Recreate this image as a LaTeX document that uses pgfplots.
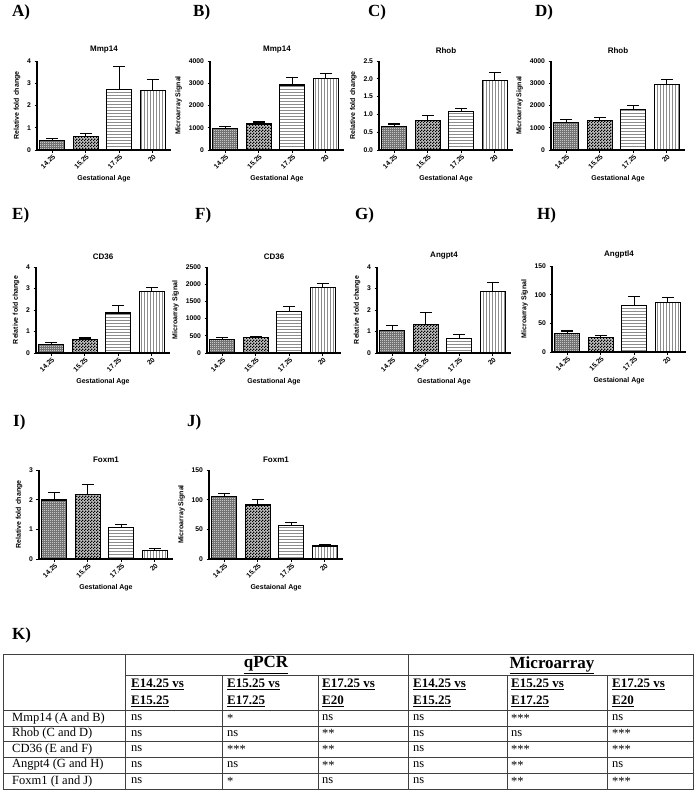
\documentclass[border=0pt]{standalone}
\usepackage{fontspec}
\setmainfont{Liberation Serif}
\setsansfont{Liberation Sans}
\usepackage{pgfplots}
\pgfplotsset{compat=1.18}
\usetikzlibrary{patterns}

\pgfdeclarepatternformonly{finecheck}{\pgfpointorigin}{\pgfpoint{3pt}{3pt}}{\pgfpoint{3pt}{3pt}}{%
  \pgfpathrectangle{\pgfpointorigin}{\pgfpoint{1.5pt}{1.5pt}}%
  \pgfpathrectangle{\pgfpoint{1.5pt}{1.5pt}}{\pgfpoint{1.5pt}{1.5pt}}%
  \pgfusepath{fill}}
\pgfdeclarepatternformonly{finegrid}{\pgfpoint{-0.5pt}{-0.5pt}}{\pgfpoint{2pt}{2pt}}{\pgfpoint{2pt}{2pt}}{%
  \pgfsetlinewidth{0.5pt}%
  \pgfpathmoveto{\pgfpoint{0pt}{1pt}}\pgfpathlineto{\pgfpoint{2pt}{1pt}}%
  \pgfpathmoveto{\pgfpoint{1pt}{0pt}}\pgfpathlineto{\pgfpoint{1pt}{2pt}}%
  \pgfusepath{stroke}}

\pgfplotsset{
  panel/.style={
    scale only axis, width=134pt, height=89pt,
    axis lines=left, axis line style={-, line width=1.1pt, black},
    xmin=0.54, xmax=4.54, ymin=0,
    xtick={1,2,3,4}, xticklabels={14.25,15.25,17.25,20},
    x tick label style={rotate=45, anchor=north east, inner sep=1pt},
    tick align=outside, major tick length=2.5pt, tick style={line width=0.9pt, black},
    tick label style={font=\sffamily\bfseries\fontsize{6.8}{7.5}\selectfont},
    label style={font=\sffamily\bfseries\fontsize{7}{8}\selectfont},
    xlabel style={yshift=-0.5pt},
    title style={font=\sffamily\bfseries\fontsize{8}{9}\selectfont, yshift=-2pt},
    xlabel={Gestational Age},
    /pgf/number format/assume math mode=true,
    /pgf/number format/1000 sep={},
    scaled y ticks=false,
  },
  ebar/.style={/pgfplots/error bars/y dir=plus, /pgfplots/error bars/y explicit,
    /pgfplots/error bars/error mark=|,
    /pgfplots/error bars/error bar style={line width=1.1pt, black},
    /pgfplots/error bars/error mark options={line width=1.1pt, black, mark size=6pt}},
  barcommon/.style={ybar, bar width=25pt, bar shift=0pt, draw=black, line width=1.1pt, ebar},
  b1/.style={barcommon, fill=gray!45, postaction={pattern=finegrid, pattern color=black!55}},
  b2/.style={barcommon, fill=black!25, postaction={pattern=finecheck, pattern color=black}},
  b3/.style={barcommon, pattern=horizontal lines, pattern color=black!45},
  b4/.style={barcommon, pattern=vertical lines, pattern color=black!45},
}

\begin{document}
\begin{tikzpicture}
\useasboundingbox[fill=white] (0,0) rectangle (699pt,-792pt);

% panel letters
\begin{scope}[every node/.style={anchor=west, font=\bfseries\fontsize{17}{18}\selectfont, inner sep=0pt}]
\node at (12pt,-12pt) {A)};
\node at (193pt,-12pt) {B)};
\node at (368pt,-12pt) {C)};
\node at (535pt,-12pt) {D)};
\node at (12pt,-215pt) {E)};
\node at (195pt,-215pt) {F)};
\node at (355pt,-215pt) {G)};
\node at (537pt,-215pt) {H)};
\node at (13pt,-422pt) {I)};
\node at (187pt,-422pt) {J)};
\node at (12pt,-635pt) {K)};
\end{scope}

% A
\begin{axis}[panel, at={(37pt,-150pt)}, anchor=south west, ymax=4, ytick={0,1,2,3,4},
  title={Mmp14}, ylabel={Relative fold change}]
\addplot[b1] coordinates {(1,0.44) +- (0,0.09)};
\addplot[b2] coordinates {(2,0.62) +- (0,0.12)};
\addplot[b3] coordinates {(3,2.70) +- (0,1.06)};
\addplot[b4] coordinates {(4,2.68) +- (0,0.47)};
\end{axis}
% B
\begin{axis}[panel, at={(210pt,-150pt)}, anchor=south west, ymax=4000, ytick={0,1000,2000,3000,4000},
  title={Mmp14}, ylabel={Microarray Signal}]
\addplot[b1] coordinates {(1,960) +- (0,105)};
\addplot[b2] coordinates {(2,1170) +- (0,90)};
\addplot[b3] coordinates {(3,2920) +- (0,320)};
\addplot[b4] coordinates {(4,3225) +- (0,200)};
\end{axis}
% C
\begin{axis}[panel, at={(379pt,-150pt)}, anchor=south west, ymax=2.5, ytick={0,0.5,1,1.5,2,2.5},
  yticklabel style={/pgf/number format/fixed, /pgf/number format/fixed zerofill, /pgf/number format/precision=1},
  title={Rhob}, ylabel={Relative fold change}]
\addplot[b1] coordinates {(1,0.67) +- (0,0.06)};
\addplot[b2] coordinates {(2,0.84) +- (0,0.13)};
\addplot[b3] coordinates {(3,1.07) +- (0,0.10)};
\addplot[b4] coordinates {(4,1.96) +- (0,0.22)};
\end{axis}
% D
\begin{axis}[panel, at={(551pt,-150pt)}, anchor=south west, ymax=4000, ytick={0,1000,2000,3000,4000},
  title={Rhob}, ylabel={Microarray Signal}]
\addplot[b1] coordinates {(1,1252) +- (0,122)};
\addplot[b2] coordinates {(2,1328) +- (0,122)};
\addplot[b3] coordinates {(3,1832) +- (0,153)};
\addplot[b4] coordinates {(4,2931) +- (0,245)};
\end{axis}
% E
\begin{axis}[panel, height=86pt, at={(36pt,-353pt)}, anchor=south west, ymax=4, ytick={0,1,2,3,4},
  title={CD36}, ylabel={Relative fold change}]
\addplot[b1] coordinates {(1,0.40) +- (0,0.07)};
\addplot[b2] coordinates {(2,0.62) +- (0,0.08)};
\addplot[b3] coordinates {(3,1.86) +- (0,0.33)};
\addplot[b4] coordinates {(4,2.84) +- (0,0.20)};
\end{axis}
% F
\begin{axis}[panel, height=86pt, at={(207pt,-353pt)}, anchor=south west, ymax=2500, ytick={0,500,1000,1500,2000,2500},
  title={CD36}, ylabel={Microarray Signal}]
\addplot[b1] coordinates {(1,399) +- (0,39)};
\addplot[b2] coordinates {(2,438) +- (0,48)};
\addplot[b3] coordinates {(3,1196) +- (0,146)};
\addplot[b4] coordinates {(4,1897) +- (0,136)};
\end{axis}
% G
\begin{axis}[panel, height=86pt, at={(377pt,-353pt)}, anchor=south west, ymax=4, ytick={0,1,2,3,4},
  title={Angpt4}, ylabel={Relative fold change}]
\addplot[b1] coordinates {(1,1.05) +- (0,0.21)};
\addplot[b2] coordinates {(2,1.33) +- (0,0.55)};
\addplot[b3] coordinates {(3,0.67) +- (0,0.20)};
\addplot[b4] coordinates {(4,2.84) +- (0,0.43)};
\end{axis}
% H
\begin{axis}[panel, height=86pt, at={(552pt,-352pt)}, anchor=south west, ymax=150, ytick={0,50,100,150},
  title={Angptl4}, ylabel={Microarray Signal}, xlabel={Gestaional Age}]
\addplot[b1] coordinates {(1,33) +- (0,3.6)};
\addplot[b2] coordinates {(2,26) +- (0,3.5)};
\addplot[b3] coordinates {(3,81.5) +- (0,15.4)};
\addplot[b4] coordinates {(4,86.2) +- (0,8.3)};
\end{axis}
% I
\begin{axis}[panel, at={(39pt,-559pt)}, anchor=south west, ymax=3, ytick={0,1,2,3},
  title={Foxm1}, ylabel={Relative fold change}]
\addplot[b1] coordinates {(1,1.99) +- (0,0.25)};
\addplot[b2] coordinates {(2,2.16) +- (0,0.36)};
\addplot[b3] coordinates {(3,1.05) +- (0,0.11)};
\addplot[b4] coordinates {(4,0.29) +- (0,0.05)};
\end{axis}
% J
\begin{axis}[panel, at={(209pt,-559pt)}, anchor=south west, ymax=150, ytick={0,50,100,150},
  title={Foxm1}, ylabel={Microarray Signal}, xlabel={Gestaional Age}]
\addplot[b1] coordinates {(1,106) +- (0,4)};
\addplot[b2] coordinates {(2,91) +- (0,9)};
\addplot[b3] coordinates {(3,57) +- (0,4)};
\addplot[b4] coordinates {(4,22) +- (0,1.6)};
\end{axis}

% Table K
\begin{scope}[line width=1pt, draw=black!75]
\draw (3pt,-654pt) rectangle (693pt,-789pt);
\draw (125pt,-654pt) -- (125pt,-789pt);
\draw (408pt,-654pt) -- (408pt,-789pt);
\foreach \x in {222,318,507,607} \draw (\x pt,-675pt) -- (\x pt,-789pt);
\draw (125pt,-675pt) -- (693pt,-675pt);
\foreach \y in {710,726,741,757,773} \draw (3pt,-\y pt) -- (693pt,-\y pt);
\end{scope}
\node[font=\bfseries\fontsize{17}{18}\selectfont] at (266pt,-665pt) {\underline{qPCR}};
\node[font=\bfseries\fontsize{17}{18}\selectfont] at (552pt,-665pt) {\underline{Microarray}};
\begin{scope}[every node/.style={anchor=west, inner sep=0pt, font=\bfseries\fontsize{13}{14}\selectfont}]
\foreach \x/\a/\b in {131/E14.25 vs/E15.25, 227/E15.25 vs/E17.25, 322/E17.25 vs/E20,
                      413/E14.25 vs/E15.25, 511/E15.25 vs/E17.25, 612/E17.25 vs/E20}{
  \node at (\x pt,-684pt) {\underline{\a}};
  \node at (\x pt,-701pt) {\underline{\b}};
}
\end{scope}
\begin{scope}[every node/.style={anchor=west, inner sep=0pt, font=\fontsize{12.5}{14}\selectfont}]
\foreach \y/\n/\c/\d/\e/\f/\g/\h in {
  718/Mmp14 (A and B)/ns/*/ns/ns/***/ns,
  733.5/Rhob (C and D)/ns/ns/**/ns/ns/***,
  749/CD36 (E and F)/ns/***/**/ns/***/***,
  765/Angpt4 (G and H)/ns/ns/**/ns/**/ns,
  781/Foxm1 (I and J)/ns/*/ns/ns/**/***}{
  \node at (12pt,-\y pt) {\n};
  \node at (131pt,-\y pt) {\c};
  \node at (227pt,-\y pt) {\d};
  \node at (322pt,-\y pt) {\e};
  \node at (413pt,-\y pt) {\f};
  \node at (511pt,-\y pt) {\g};
  \node at (612pt,-\y pt) {\h};
}
\end{scope}
\end{tikzpicture}
\end{document}
